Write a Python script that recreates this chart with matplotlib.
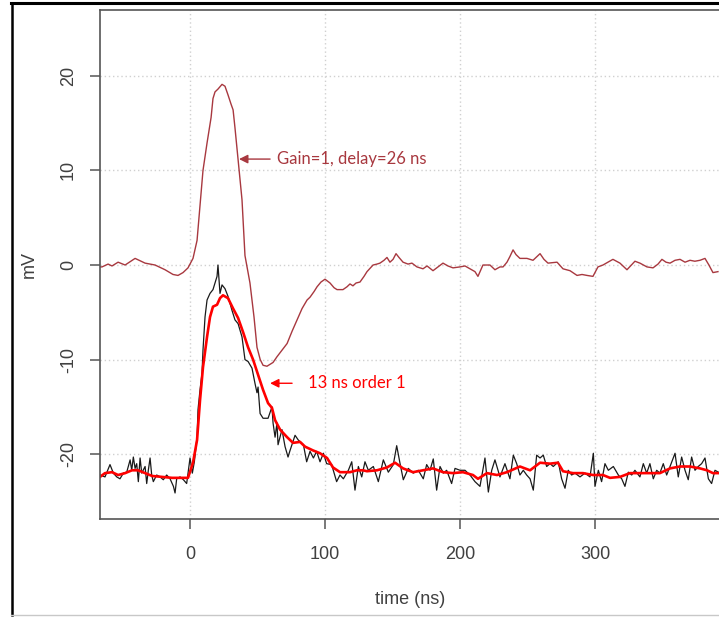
import numpy as np
import matplotlib
matplotlib.use("Agg")
import matplotlib.pyplot as plt
from matplotlib.lines import Line2D

plt.rcParams['axes.unicode_minus'] = False
plt.rcParams['font.family'] = ['Liberation Sans', 'DejaVu Sans']

# ---- data (time in ns, signal in mV) ----
brown_t = [-66.7, -65.2, -60.7, -57.8, -53.3, -48.1, -40.7, -33.3, -25.9, -18.5,
           -12.6, -8.9, -5.2, -1.5, 2.2, 5.2, 9.6, 12.6, 15.6, 17.0,
           18.5, 20.7, 23.7, 25.9, 28.1, 30.4, 31.9, 33.3, 35.6, 38.5,
           40.7, 44.4, 47.4, 49.6, 52.0, 54.1, 57.0, 59.3, 61.5, 64.4,
           68.1, 71.9, 75.6, 79.3, 83.0, 86.7, 88.9, 91.9, 94.1, 97.0,
           100.0, 103.7, 106.7, 108.9, 113.3, 116.3, 118.5, 120.7, 123.0, 125.9,
           128.9, 131.1, 135.6, 138.5, 140.7, 143.7, 145.9, 148.1, 150.4, 152.6,
           154.8, 157.8, 161.5, 164.4, 168.1, 172.6, 175.6, 180.0, 183.7, 187.4,
           191.1, 194.8, 200.0, 203.7, 207.4, 211.1, 213.3, 217.0, 222.2, 225.9,
           229.6, 231.9, 234.8, 237.0, 239.3, 241.5, 244.4, 249.6, 254.1, 256.3,
           259.3, 262.2, 265.2, 271.9, 276.3, 281.5, 286.7, 290.4, 294.1, 298.5,
           302.2, 305.9, 309.6, 313.3, 318.5, 323.7, 329.6, 333.3, 338.5, 343.0,
           346.7, 349.6, 352.6, 355.6, 359.3, 363.0, 366.7, 370.4, 374.0, 377.8,
           381.5, 384.4, 387.4, 391.1]
brown_v = [-0.2, -0.2, 0.1, -0.1, 0.3, 0.0, 0.7, 0.2, 0.0, -0.5,
           -1.0, -1.1, -0.8, -0.3, 0.7, 2.6, 10.0, 12.9, 15.6, 17.6,
           18.3, 18.6, 19.1, 18.9, 18.0, 17.0, 16.4, 14.5, 11.1, 6.9,
           1.0, -1.9, -5.5, -8.7, -10.0, -10.6, -10.7, -10.5, -10.3, -9.7,
           -9.0, -8.3, -7.0, -5.8, -4.6, -3.7, -3.4, -2.8, -2.3, -1.8,
           -1.5, -1.9, -2.4, -2.6, -2.6, -2.3, -2.0, -2.2, -1.9, -1.8,
           -1.2, -0.7, 0.0, 0.1, 0.2, 0.5, 0.8, 0.3, 0.6, 1.2,
           0.8, 0.3, 0.1, 0.2, -0.2, -0.4, -0.1, -0.6, -0.2, 0.2,
           -0.1, -0.3, -0.2, -0.1, -0.4, -0.7, -1.2, 0.0, 0.0, -0.5,
           -0.2, -0.2, 0.3, 0.9, 1.6, 1.1, 0.7, 0.7, 0.5, 0.8,
           1.2, 0.6, 0.2, 0.3, -0.4, -0.6, -1.1, -1.0, -1.1, -1.2,
           -0.2, 0.0, 0.3, 0.6, 0.2, -0.5, 0.4, 0.2, -0.2, -0.3,
           0.1, 0.6, 0.3, 0.2, 0.5, 0.6, 0.3, 0.5, 0.4, 0.5,
           0.7, 0.0, -0.8, -0.7]

black_t = [-66.7, -63.0, -59.3, -56.8, -54.3, -51.9, -49.4, -46.9, -44.4, -43.2,
           -42.0, -40.7, -39.5, -38.3, -37.0, -35.8, -33.3, -32.1, -30.9, -29.6,
           -28.4, -27.2, -24.7, -22.2, -19.8, -17.3, -14.8, -12.3, -11.1, -9.9,
           -7.4, -4.9, -2.5, 0.0, 1.7, 3.2, 5.2, 5.9, 7.4, 8.9,
           9.6, 11.1, 12.6, 14.8, 17.0, 18.5, 20.0, 20.7, 22.2, 23.7,
           25.9, 28.1, 31.1, 33.3, 35.6, 38.5, 40.7, 43.0, 45.9, 48.1,
           49.6, 50.4, 51.9, 54.1, 57.8, 60.7, 61.5, 63.0, 64.4, 65.2,
           68.1, 70.4, 72.6,
           74.1, 77.8, 80.2, 84.0, 86.4, 88.9, 91.4, 93.8, 96.3, 98.8,
           101.2, 104.9, 108.6, 111.1, 113.6, 117.3, 119.8, 122.2, 124.7, 127.2,
           129.6, 132.1, 135.8, 139.5, 143.2, 146.9, 150.6, 153.1, 155.6, 158.0,
           161.7, 165.4, 169.1, 172.8, 175.3, 177.8, 180.2, 182.7, 185.2, 187.7,
           190.1, 193.8, 196.3, 200.0, 203.7, 207.4, 211.1, 214.8, 218.5, 221.0,
           223.5, 225.9,
           229.6, 233.3, 237.0, 239.5, 242.0, 244.4, 246.9, 249.4, 251.9, 254.3,
           256.8, 259.3, 261.7, 264.2, 266.7, 269.1, 272.8, 275.3, 277.8, 280.2,
           282.7, 285.2, 288.9, 292.6, 296.3, 298.8, 300.0, 302.5, 304.9, 307.4,
           309.9, 313.6, 317.3, 319.8, 322.2, 324.7, 327.2, 329.6, 333.3, 335.8,
           338.3, 340.7, 343.2, 345.7, 348.1, 350.6, 353.1, 355.6, 359.3, 361.7,
           364.2, 366.7, 369.1, 371.6, 374.1, 376.5, 379.0, 381.5, 384.0, 386.4,
           388.9, 391.4]
black_v = [-22.2, -22.4, -21.1, -22.0, -22.4, -22.6, -22.0, -21.9, -20.6, -21.7,
           -20.3, -21.5, -21.0, -22.9, -20.4, -22.0, -21.3, -23.1, -21.7, -20.4,
           -22.2, -22.9, -22.2, -22.4, -22.7, -22.2, -22.6, -23.4, -24.1, -22.6,
           -22.4, -22.7, -23.1, -20.4, -22.0, -20.8, -18.2, -15.3, -13.2, -11.4,
           -9.0, -5.5, -3.7, -3.0, -2.6, -1.9, -1.2, 0.0, -3.0, -2.1,
           -2.5, -3.3, -4.8, -5.8, -6.2, -7.6, -10.0, -10.2, -10.9, -12.5,
           -13.5, -12.9, -15.7, -16.2, -16.2, -15.0, -16.7, -18.2, -16.7, -19.0,
           -17.4, -19.2, -20.3,
           -19.6, -18.0, -18.5, -19.0, -20.8, -19.7, -20.4, -19.7, -20.8, -19.9,
           -21.0, -21.1, -22.9, -22.2, -22.6, -21.7, -20.8, -23.8, -21.3, -22.4,
           -20.8, -21.7, -21.3, -22.9, -20.6, -21.9, -21.1, -19.1, -21.0, -22.7,
           -21.5, -22.0, -21.7, -22.6, -21.1, -21.7, -20.5, -23.8, -21.3, -22.0,
           -21.7, -23.1, -21.5, -21.7, -21.7, -22.2, -22.9, -23.4, -20.4, -24.0,
           -21.7, -20.6,
           -22.4, -21.0, -22.6, -20.1, -21.0, -22.2, -21.7, -22.2, -22.6, -23.8,
           -20.1, -20.4, -20.1, -21.3, -21.0, -21.3, -20.8, -22.6, -23.6, -21.7,
           -22.2, -22.0, -22.4, -22.0, -22.4, -19.9, -23.4, -21.7, -22.9, -21.0,
           -21.7, -21.3, -22.2, -22.6, -23.4, -21.9, -22.2, -21.7, -22.4, -21.0,
           -22.0, -21.0, -22.6, -21.7, -22.0, -21.0, -22.2, -21.3, -19.9, -22.4,
           -20.3, -21.7, -22.7, -20.3, -21.7, -21.3, -21.0, -20.4, -22.6, -23.1,
           -21.7, -21.9]

red_t = [-66.7, -63.0, -57.8, -53.3, -48.1, -43.0, -38.5, -33.3, -28.1, -20.7,
         -13.3, -5.9, -1.5, 2.2, 5.2, 7.4, 9.6, 12.6, 14.8, 17.0,
         20.0, 22.2, 24.4, 28.1, 31.9, 35.6, 39.3, 43.0, 46.7, 50.4,
         54.1, 57.8, 60.7, 63.0, 66.7, 71.9, 76.3, 81.5, 85.2, 91.1,
         96.3, 101.5, 105.9, 111.1, 118.5, 123.7, 128.1, 131.1, 138.5, 145.9,
         151.9, 157.8, 165.2, 172.6, 180.0, 187.4, 194.8, 202.2, 209.6, 213.3,
         220.0, 227.4, 234.8, 244.4, 251.9, 259.3, 266.7, 272.6, 276.3, 283.7,
         291.1, 298.5, 305.9, 311.1, 318.5, 325.9, 333.3, 340.7, 348.1, 355.6,
         363.0, 370.4, 377.8, 383.0, 387.4, 391.1]
red_v = [-22.4, -22.0, -21.9, -22.2, -22.0, -21.7, -21.7, -22.0, -22.3, -22.4,
         -22.5, -22.5, -22.5, -20.9, -18.5, -14.3, -10.8, -7.6, -5.5, -4.4,
         -4.2, -3.5, -3.2, -3.5, -4.6, -5.6, -7.1, -8.7, -10.0, -11.6,
         -13.2, -14.6, -15.1, -16.4, -17.4, -18.2, -18.8, -18.7, -19.2, -19.6,
         -19.9, -20.4, -21.4, -21.9, -21.9, -21.7, -21.7, -21.8, -21.7, -21.4,
         -20.9, -21.5, -21.9, -21.7, -21.5, -21.9, -22.0, -21.9, -22.2, -22.6,
         -22.0, -22.2, -21.9, -21.3, -21.7, -20.9, -21.0, -20.9, -21.8, -22.0,
         -22.0, -22.2, -22.2, -22.5, -22.4, -22.0, -22.0, -22.0, -22.0, -21.5,
         -21.3, -21.3, -21.5, -21.7, -22.0, -22.0]

x_ticks = [0, 100, 200, 300]
y_ticks = [-20, -10, 0, 10, 20]
label_gain = "Gain=1, delay=26 ns"
label_filter = "13 ns order 1"

# ---- figure ----
W, H = 719, 617
fig = plt.figure(figsize=(W / 100, H / 100), dpi=100)
ax = fig.add_axes([100 / W, 98 / H, 622 / W, 509 / H])

ax.plot(brown_t, brown_v, color='#a8383f', lw=1.0)
ax.plot(black_t, black_v, color='#1a1a1a', lw=0.9)
ax.plot(red_t, red_v, color='#ff0000', lw=1.9)

ax.set_xlim(-66.7, 394.1)
ax.set_ylim(-26.85, 26.96)
ax.set_xticks(x_ticks)
ax.set_yticks(y_ticks)
ax.grid(True, color='#d0d0d0', linestyle=(0, (1, 2)), lw=1.0)
ax.set_axisbelow(True)

tick_color = '#404040'
ax.tick_params(axis='both', direction='out', length=7.5, width=1.1,
               color='#555555', labelcolor=tick_color, labelsize=13)
ax.tick_params(axis='x', pad=12)
ax.tick_params(axis='y', pad=9)
for lab in ax.get_yticklabels():
    lab.set_rotation(90)
    lab.set_va('center')
for name, sp in ax.spines.items():
    sp.set_color('#555555')
    sp.set_linewidth(1.2)
ax.spines['right'].set_visible(False)

ax.set_xlabel('time (ns)', fontsize=13, color=tick_color)
ax.xaxis.set_label_coords((410 - 100) / 622, (519 - 591) / 509)
ax.set_ylabel('mV', fontsize=13, color=tick_color)
ax.yaxis.set_label_coords((38 - 100) / 622, 0.5)

# annotations
ax.annotate('', xy=(36.3, 11.2), xytext=(59.3, 11.2),
            arrowprops=dict(arrowstyle='-|>', color='#a8383f', lw=1.0,
                            mutation_scale=13, shrinkA=0, shrinkB=0))
ax.text(64.4, 11.2, label_gain, color='#a8383f', fontsize=12,
        family=['Lato', 'DejaVu Sans'], va='center', ha='left')
ax.annotate('', xy=(59.3, -12.5), xytext=(75.6, -12.5),
            arrowprops=dict(arrowstyle='-|>', color='#ff0000', lw=1.0,
                            mutation_scale=13, shrinkA=0, shrinkB=0))
ax.text(87.4, -12.5, label_filter, color='#ff0000', fontsize=12,
        family=['Lato', 'DejaVu Sans'], va='center', ha='left')

# outer frame of the screenshot
fig.add_artist(Line2D([11.5 / W, 11.5 / W], [(H - 3) / H, (H - 615) / H],
                      transform=fig.transFigure, color='black', lw=1.8))
fig.add_artist(Line2D([11 / W, 1.0], [(H - 3) / H, (H - 3) / H],
                      transform=fig.transFigure, color='black', lw=2.2))
fig.add_artist(Line2D([11 / W, 1.0], [(H - 615) / H, (H - 615) / H],
                      transform=fig.transFigure, color='#c8c8c8', lw=1.0))

fig.savefig('out.png', dpi=100)
